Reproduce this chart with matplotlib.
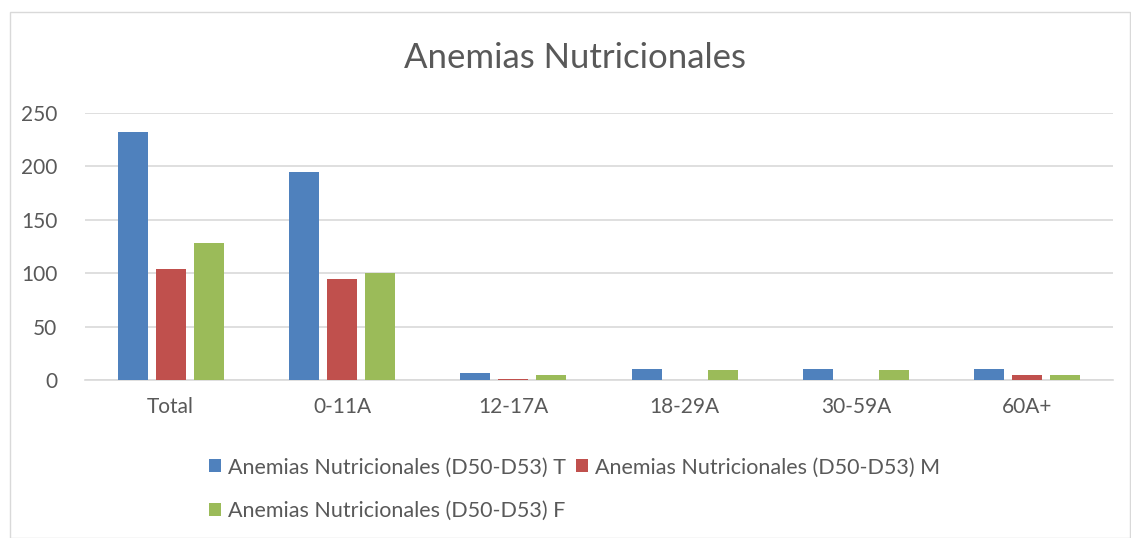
import matplotlib
matplotlib.use("Agg")
import matplotlib.pyplot as plt
import numpy as np
from matplotlib.patches import Rectangle

categories = ["Total", "0-11A", "12-17A", "18-29A", "30-59A", "60A+"]
series_names = ["Anemias Nutricionales (D50-D53) T",
                "Anemias Nutricionales (D50-D53) M",
                "Anemias Nutricionales (D50-D53) F"]
values_T = [232, 195, 7, 10, 10, 10]
values_M = [104, 95, 1, 0, 0, 5]
values_F = [128, 100, 5, 9, 9, 5]
yticks = [0, 50, 100, 150, 200, 250]
colors = ["#4F81BD", "#C0504D", "#9BBB59"]

plt.rcParams['font.family'] = ['Lato', 'DejaVu Sans']
fig = plt.figure(figsize=(11.31, 5.38), dpi=100)
fig.patches.append(Rectangle((10/1131, 0), 1120/1131, 1 - 12/538, transform=fig.transFigure,
                             fill=False, edgecolor="#D9D9D9", linewidth=1))
ax = fig.add_axes([85/1131, 1 - 380/538, (1113 - 85)/1131, (380 - 113)/538])

x = np.arange(len(categories))
w = 0.175
step = 0.222
handles = []
for i, (vals, name) in enumerate(zip([values_T, values_M, values_F], series_names)):
    b = ax.bar(x + (i - 1) * step, vals, width=w, color=colors[i], label=name, zorder=3,
               linewidth=0)
    handles.append(b)

ax.set_xlim(-0.5, len(categories) - 0.5)
ax.set_ylim(0, 250)
ax.set_yticks(yticks)
ax.set_xticks(x)
ax.set_xticklabels(categories)
ax.yaxis.grid(True, color="#D9D9D9", linewidth=1.2, zorder=0)
for s in ["top", "right", "left"]:
    ax.spines[s].set_visible(False)
ax.spines["bottom"].set_color("#D9D9D9")
ax.spines["bottom"].set_linewidth(1.2)
ax.tick_params(axis="both", length=0, labelsize=15, colors="#595959")
ax.tick_params(axis="y", pad=20)
ax.tick_params(axis="x", pad=12)

fig.text(575/1131, 1 - 58/538, "Anemias Nutricionales", ha="center", va="center",
         fontsize=25, color="#595959")

order = [0, 2, 1]
fig.legend([handles[i] for i in order], [series_names[i] for i in order],
           loc="upper left", bbox_to_anchor=(190/1131, 1 - 438/538), ncol=2, frameon=False,
           fontsize=15.5, handlelength=0.55, handleheight=0.55, handletextpad=0.3,
           columnspacing=0.5, labelspacing=1.1, labelcolor="#595959")

fig.savefig("out.png", dpi=100)
